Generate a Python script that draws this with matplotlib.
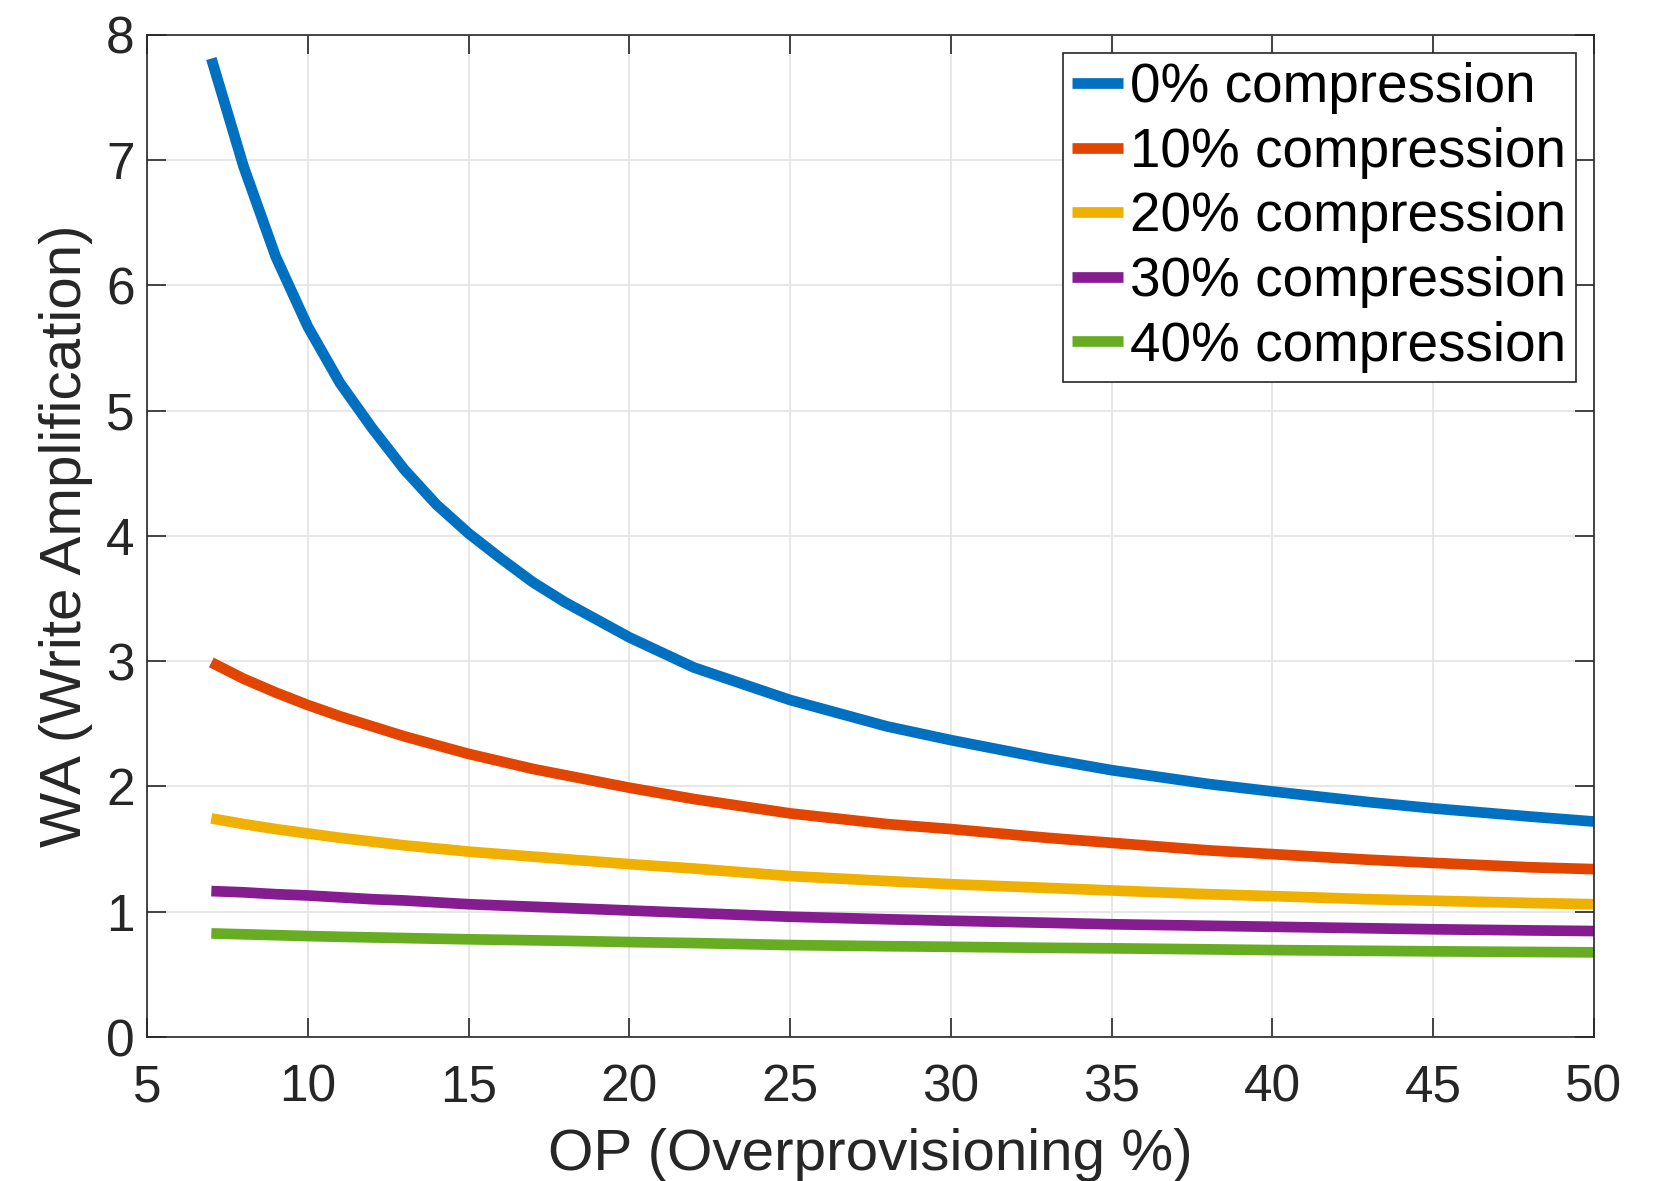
import matplotlib
matplotlib.use("Agg")
import matplotlib.pyplot as plt

plt.rcParams['font.family'] = ['Liberation Sans', 'DejaVu Sans']

op = [7, 8, 9, 10, 11, 12, 13, 14, 15, 16, 17, 18, 20, 22, 25, 28, 30, 33, 35, 38, 40, 43, 45, 48, 50]

wa_0 = [7.81, 6.95, 6.23, 5.67, 5.22, 4.86, 4.53, 4.25, 4.02, 3.82, 3.63, 3.47, 3.19, 2.95, 2.69,
        2.48, 2.37, 2.22, 2.13, 2.02, 1.96, 1.875, 1.825, 1.76, 1.72]
wa_10 = [2.99, 2.86, 2.75, 2.65, 2.56, 2.48, 2.40, 2.33, 2.26, 2.20, 2.14, 2.09, 1.99, 1.90, 1.785,
         1.70, 1.66, 1.59, 1.55, 1.49, 1.46, 1.415, 1.39, 1.355, 1.34]
wa_20 = [1.745, 1.70, 1.66, 1.625, 1.59, 1.56, 1.53, 1.505, 1.48, 1.46, 1.44, 1.42, 1.38, 1.345, 1.285,
         1.245, 1.22, 1.19, 1.17, 1.14, 1.125, 1.10, 1.088, 1.07, 1.06]
wa_30 = [1.165, 1.155, 1.14, 1.13, 1.115, 1.10, 1.09, 1.075, 1.06, 1.05, 1.04, 1.03, 1.01, 0.99, 0.96,
         0.94, 0.928, 0.912, 0.90, 0.888, 0.88, 0.868, 0.86, 0.851, 0.846]
wa_40 = [0.827, 0.82, 0.813, 0.806, 0.80, 0.795, 0.79, 0.785, 0.78, 0.776, 0.772, 0.768, 0.758, 0.75, 0.734,
         0.725, 0.72, 0.712, 0.708, 0.70, 0.694, 0.688, 0.684, 0.679, 0.676]

labels = ['0% compression', '10% compression', '20% compression', '30% compression', '40% compression']
colors = ['#0070C0', '#E24500', '#F0B000', '#851C8F', '#66AD22']
series = [wa_0, wa_10, wa_20, wa_30, wa_40]

x_ticks = [5, 10, 15, 20, 25, 30, 35, 40, 45, 50]
y_ticks = [0, 1, 2, 3, 4, 5, 6, 7, 8]

fig = plt.figure(figsize=(16.54, 11.81), dpi=100)
ax = fig.add_axes([0.0889, 0.1219, 0.8748, 0.8487])

for ys, c, lab in zip(series, colors, labels):
    ax.plot(op, ys, color=c, lw=7.7, label=lab, solid_capstyle='butt', solid_joinstyle='miter')

ax.set_xlim(5, 50)
ax.set_ylim(0, 8)
ax.set_xticks(x_ticks)
ax.set_yticks(y_ticks)
ax.grid(True, color='#E3E3E3', lw=1.2)
ax.set_axisbelow(True)
for s in ax.spines.values():
    s.set_color('#262626')
    s.set_linewidth(1.2)
ax.tick_params(direction='in', length=14, width=1.2, colors='#262626', labelsize=37,
               top=True, right=True)
ax.tick_params(axis='x', pad=19)
ax.tick_params(axis='y', pad=9)
for lab in ax.get_xticklabels() + ax.get_yticklabels():
    lab.set_color('#262626')

ax.set_xlabel('OP (Overprovisioning %)', fontsize=42, color='#262626', labelpad=11)
ax.set_ylabel('WA (Write Amplification)', fontsize=42, color='#262626', labelpad=9)

leg = ax.legend(loc='upper right', fontsize=39.5, handlelength=0.93, handletextpad=0.13,
                labelspacing=0.23, borderpad=0.17, borderaxespad=0.33, fancybox=False,
                framealpha=1, edgecolor='#262626')
leg.get_frame().set_linewidth(1.2)

fig.savefig('out.png', dpi=100)
